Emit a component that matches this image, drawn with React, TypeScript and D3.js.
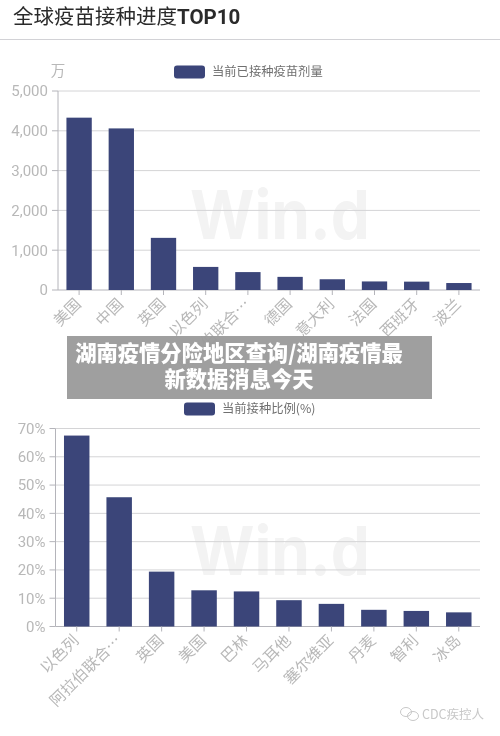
import React from "react";
import * as d3 from "d3";

const vaccineCountries = ["美国", "中国", "英国", "以色列", "阿拉伯联合…", "德国", "意大利", "法国", "西班牙", "波兰"];
const vaccineDoses = [4330, 4060, 1310, 580, 450, 330, 270, 215, 210, 175];
const doseTicks = [0, 1000, 2000, 3000, 4000, 5000];

const rateCountries = ["以色列", "阿拉伯联合…", "英国", "美国", "巴林", "马耳他", "塞尔维亚", "丹麦", "智利", "冰岛"];
const rateValues = [67.5, 45.7, 19.4, 12.8, 12.4, 9.3, 8.0, 5.9, 5.5, 5.0];
const rateTicks = [0, 10, 20, 30, 40, 50, 60, 70];

const FONT = '"Noto Sans CJK SC", "Noto Sans", sans-serif';
const BAR = "#3a4579";
const AXIS = "#b4b4ba";
const GRID = "#d4d4d6";
const LABEL = "#b8b8b8";

function Panel({ cats, vals, ticks, x0, x1, yTop, yBase, max, fmt, legend, legX, legY, unit }: any) {
  const x = d3.scaleBand<string>().domain(cats).range([x0, x1]).paddingInner(0.4).paddingOuter(0.2);
  const y = d3.scaleLinear().domain([0, max]).range([yBase, yTop]);
  const tickX = d3.scaleBand<string>().domain(cats).range([x0, x1]);
  return (
    <g fontFamily={FONT}>
      {ticks.map((t: number) => (
        <g key={t}>
          <line x1={x0} x2={x1} y1={y(t)} y2={y(t)} stroke={t === 0 ? AXIS : GRID} strokeWidth={1} />
          <line x1={x0 - 6} x2={x0} y1={y(t)} y2={y(t)} stroke={AXIS} />
          <text x={x0 - 10} y={y(t)} dy="0.36em" textAnchor="end" fontSize={15} fill={LABEL} fontFamily="Roboto, sans-serif">{fmt(t)}</text>
        </g>
      ))}
      <line x1={x0} x2={x0} y1={yTop} y2={yBase} stroke={AXIS} />
      {cats.map((c: string, i: number) => (
        <g key={c}>
          <rect x={x(c)} y={y(vals[i])} width={x.bandwidth()} height={yBase - y(vals[i])} fill={BAR} />
          <line x1={tickX(c)! + tickX.bandwidth() / 2} x2={tickX(c)! + tickX.bandwidth() / 2} y1={yBase} y2={yBase + 5} stroke={AXIS} />
          <text
            transform={`translate(${tickX(c)! + tickX.bandwidth() / 2 - 1},${yBase + 11}) rotate(-45)`}
            textAnchor="end"
            dy="0.36em"
            fontSize={15.5}
            fill={LABEL}
          >{c}</text>
        </g>
      ))}
      <rect x={legX} y={legY - 6.5} width={31} height={13} rx={3} fill={BAR} />
      <text x={legX + 38} y={legY} dy="0.36em" fontSize={12.3} fill="#6f6f6f">{legend}</text>
      {unit ? <text x={58} y={71} dy="0.36em" textAnchor="middle" fontSize={14.5} fill={LABEL}>{unit}</text> : null}
    </g>
  );
}

export default function App() {
  const fmt1 = d3.format(",");
  const fmt2 = (v: number) => `${v}%`;
  return (
    <svg width={500} height={736} viewBox="0 0 500 736" style={{ position: "absolute", left: 0, top: 0, background: "#fff" }}>
      <defs>
        <filter id="soft" x="0" y="0" width="100%" height="100%">
          <feGaussianBlur stdDeviation="0.5" />
        </filter>
      </defs>
      <g filter="url(#soft)">
        <text x={13} y={24} fontSize={20.5} fill="#2a2a2a" fontFamily={FONT}>
          全球疫苗接种进度<tspan fontWeight={700} fontFamily="Roboto, sans-serif" fontSize={20.5}>TOP10</tspan>
        </text>
        <line x1={0} x2={500} y1={39.5} y2={39.5} stroke="#d2d2d6" />
        <text x={280} y={239} textAnchor="middle" fontSize={68} textLength={180} lengthAdjust="spacingAndGlyphs" fontWeight={700} fill="#f3f3f3" fontFamily="Inter, sans-serif">Win.d</text>
        <text x={280} y={575} textAnchor="middle" fontSize={68} textLength={180} lengthAdjust="spacingAndGlyphs" fontWeight={700} fill="#f3f3f3" fontFamily="Inter, sans-serif">Win.d</text>
        <Panel cats={vaccineCountries} vals={vaccineDoses} ticks={doseTicks} x0={58} x1={480} yTop={91} yBase={290} max={5000} fmt={fmt1} legend="当前已接种疫苗剂量" legX={174} legY={72} unit="万" />
        <Panel cats={rateCountries} vals={rateValues} ticks={rateTicks} x0={55.5} x1={480} yTop={428.5} yBase={626.5} max={70} fmt={fmt2} legend="当前接种比例(%)" legX={184} legY={409} />
        <text x={453} y={714} dy="0.36em" textAnchor="middle" fontSize={12.5} fill="#c8c8c8" fontFamily={FONT}>CDC疾控人</text>
        <g fill="none" stroke="#c8c8c8" strokeWidth={1}>
          <ellipse cx={406} cy={712} rx={5.5} ry={4.5} />
          <ellipse cx={413} cy={716} rx={5.5} ry={4.5} />
        </g>
      </g>
      <rect x={67} y={336} width={365} height={63} fill="#9a9a9a" fillOpacity={0.95} />
      <g fontFamily={FONT} fontWeight={900} fill="#fff" textAnchor="middle">
        <text x={239} y={353} dy="0.36em" fontSize={21.3}>湖南疫情分险地区查询/湖南疫情最</text>
        <text x={239} y={379} dy="0.36em" fontSize={21.3}>新数据消息今天</text>
      </g>
    </svg>
  );
}
